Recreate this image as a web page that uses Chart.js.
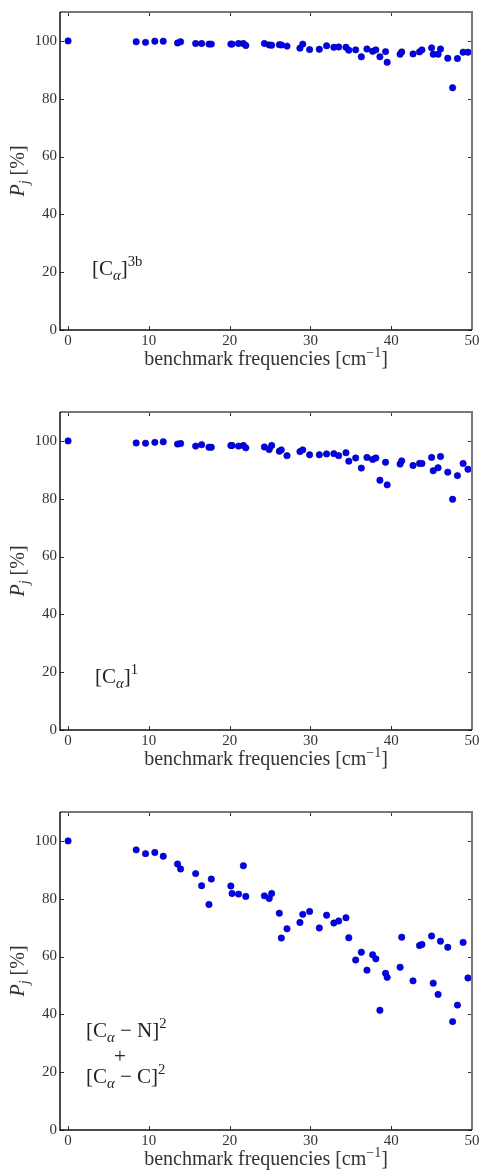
<!DOCTYPE html>
<html lang="en">
<head>
    <meta charset="UTF-8">
    <title>Benchmark frequencies</title>
    <script src="https://cdn.jsdelivr.net/npm/chart.js"></script>
    <style>
        body { margin: 0; background: #fff; }
        .panel { width: 480px; height: 400px; position: relative; }
        .panel.last { height: 371px; }
    </style>
</head>
<body>
    <div class="panel"><canvas id="chart0"></canvas></div>
    <div class="panel"><canvas id="chart1"></canvas></div>
    <div class="panel last"><canvas id="chart2"></canvas></div>
<script>
// benchmark frequencies [cm^-1], shared by all three panels
var freqs = [0, 8.43, 9.59, 10.74, 11.78, 13.55, 13.93, 15.79, 16.53, 17.44, 17.73, 20.15, 20.3, 21.1, 21.7, 22.0,
    24.3, 24.9, 25.2, 26.15, 26.4, 27.1, 28.7, 29.05, 29.9, 31.1, 32.0, 32.9, 33.5, 34.4, 34.75, 35.6, 36.3, 37.0,
    37.7, 38.1, 38.6, 39.3, 39.5, 41.1, 41.3, 42.7, 43.5, 43.8, 45.0, 45.2, 45.8, 46.1, 47.0, 47.6, 48.2, 48.9, 49.5];

// P_j [%] for [Ca]^3b
var pCa3b = [100, 99.7, 99.5, 99.9, 99.9, 99.3, 99.7, 99.1, 99.1, 98.9, 98.9, 98.9, 98.9, 99.1, 99.1, 98.4,
    99.1, 98.6, 98.5, 98.7, 98.6, 98.2, 97.5, 98.9, 97.0, 97.1, 98.3, 97.8, 97.9, 97.8, 96.8, 96.9, 94.5, 97.2,
    96.4, 96.9, 94.5, 96.3, 92.6, 95.4, 96.2, 95.5, 96.2, 96.9, 97.6, 95.4, 95.4, 97.2, 94.0, 83.8, 93.9, 96.1, 96.1];

// P_j [%] for [Ca]^1
var pCa1 = [100, 99.3, 99.2, 99.5, 99.7, 98.9, 99.1, 98.2, 98.7, 97.8, 97.8, 98.4, 98.4, 98.2, 98.4, 97.6,
    97.9, 97.0, 98.4, 96.4, 96.9, 94.9, 96.3, 96.9, 95.2, 95.2, 95.5, 95.6, 94.9, 95.9, 93.0, 94.1, 90.6, 94.3,
    93.6, 94.1, 86.4, 92.6, 84.8, 92.0, 93.1, 91.5, 92.2, 92.2, 94.3, 89.7, 90.7, 94.6, 89.2, 79.8, 88.0, 92.2, 90.2];

// P_j [%] for [Ca-N]^2 + [Ca-C]^2
var pCaNC = [100, 96.9, 95.6, 96.0, 94.7, 92.0, 90.3, 88.7, 84.5, 78.0, 86.8, 84.4, 81.8, 81.6, 91.4, 80.8,
    81.0, 80.1, 81.8, 75.0, 66.4, 69.6, 71.8, 74.6, 75.6, 69.9, 74.3, 71.6, 72.3, 73.4, 66.5, 58.8, 61.5, 55.3,
    60.6, 59.2, 41.4, 54.2, 52.8, 56.3, 66.7, 51.6, 63.8, 64.2, 67.1, 50.8, 46.9, 65.3, 63.2, 37.5, 43.2, 64.9, 52.6];

var xTicks = [0, 10, 20, 30, 40, 50];
var yTicks = [0, 20, 40, 60, 80, 100];

var SERIF = '"Liberation Serif", "DejaVu Serif", serif';

// draw a run of text pieces: [text, kind] where kind is n / i / subi / sup
function fontFor(kind, size) {
    var s = (kind === 'sup' || kind === 'subi') ? size * 0.7 : size;
    var it = (kind === 'i' || kind === 'subi') ? 'italic ' : '';
    return it + s + 'px ' + SERIF;
}
function richWidth(ctx, parts, size) {
    var w = 0;
    parts.forEach(function(p) {
        ctx.font = fontFor(p[1], size);
        w += ctx.measureText(p[0]).width;
    });
    return w;
}
function drawRich(ctx, parts, x, y, size) {
    ctx.textAlign = 'left';
    ctx.textBaseline = 'alphabetic';
    parts.forEach(function(p) {
        var dy = 0;
        if (p[1] === 'subi') dy = size * 0.25;
        if (p[1] === 'sup') dy = -size * 0.42;
        ctx.font = fontFor(p[1], size);
        ctx.fillText(p[0], x, y + dy);
        x += ctx.measureText(p[0]).width;
    });
}

var framePlugin = {
    id: 'frame',
    afterDraw: function(chart) {
        var ctx = chart.ctx;
        var a = chart.chartArea;
        var xs = chart.scales.x, ys = chart.scales.y;
        ctx.save();
        // inward ticks on all four sides
        ctx.strokeStyle = '#333';
        ctx.lineWidth = 1;
        ctx.beginPath();
        xTicks.forEach(function(v) {
            var px = Math.round(xs.getPixelForValue(v)) + 0.5;
            ctx.moveTo(px, a.bottom); ctx.lineTo(px, a.bottom - 4);
            ctx.moveTo(px, a.top); ctx.lineTo(px, a.top + 4);
        });
        yTicks.forEach(function(v) {
            var py = Math.round(ys.getPixelForValue(v)) + 0.5;
            ctx.moveTo(a.left, py); ctx.lineTo(a.left + 4, py);
            ctx.moveTo(a.right, py); ctx.lineTo(a.right - 4, py);
        });
        ctx.stroke();
        // spines
        ctx.strokeStyle = '#777';
        ctx.lineWidth = 2;
        ctx.beginPath();
        ctx.moveTo(a.left, a.top); ctx.lineTo(a.right, a.top); ctx.lineTo(a.right, a.bottom);
        ctx.stroke();
        ctx.strokeStyle = '#111';
        ctx.lineWidth = 1.5;
        ctx.beginPath();
        ctx.moveTo(a.left, a.top); ctx.lineTo(a.left, a.bottom); ctx.lineTo(a.right, a.bottom);
        ctx.stroke();

        ctx.fillStyle = '#333';
        // x title
        var xt = [['benchmark frequencies [cm', 'n'], ['\u22121', 'sup'], [']', 'n']];
        var w = richWidth(ctx, xt, 20);
        drawRich(ctx, xt, (a.left + a.right) / 2 - w / 2, a.bottom + 35, 20);
        // y title
        var yt = [['P', 'i'], ['j', 'subi'], [' [%]', 'n']];
        ctx.translate(24, (a.top + a.bottom) / 2);
        ctx.rotate(-Math.PI / 2);
        w = richWidth(ctx, yt, 20);
        drawRich(ctx, yt, -w / 2, 0, 20);
        ctx.setTransform(1, 0, 0, 1, 0, 0);
        // label inside the plot
        ctx.fillStyle = '#222';
        var lab = chart.options.plugins.frame.label;
        lab.forEach(function(line) {
            if (line.center) {
                ctx.font = '21px ' + SERIF;
                ctx.textAlign = 'center';
                ctx.textBaseline = 'middle';
                ctx.fillText(line.parts[0][0], line.x, line.y);
            } else {
                drawRich(ctx, line.parts, line.x, line.y, 21);
            }
        });
        ctx.restore();
    }
};

function createChart(id, values, label, xHeight) {
    var pts = freqs.map(function(f, i) { return { x: f, y: values[i] }; });
    return new Chart(document.getElementById(id), {
        type: 'scatter',
        data: {
            datasets: [{
                data: pts,
                backgroundColor: '#0000ff',
                borderColor: '#000070',
                borderWidth: 0.6,
                pointRadius: 3.2
            }]
        },
        options: {
            responsive: true,
            maintainAspectRatio: false,
            animation: false,
            layout: { padding: { top: 12, right: 8, left: 0, bottom: 0 } },
            plugins: {
                legend: { display: false },
                tooltip: { enabled: false },
                frame: { label: label }
            },
            scales: {
                x: {
                    type: 'linear',
                    min: -1, max: 50,
                    grid: { display: false, drawTicks: false },
                    border: { display: false },
                    afterBuildTicks: function(s) { s.ticks = xTicks.map(function(v) { return { value: v }; }); },
                    afterFit: function(s) { s.height = xHeight; s.paddingLeft = 0; s.paddingRight = 0; },
                    ticks: { padding: 2, color: '#333', font: { family: SERIF, size: 15 } }
                },
                y: {
                    min: 0, max: 110,
                    grid: { display: false, drawTicks: false },
                    border: { display: false },
                    afterBuildTicks: function(s) { s.ticks = yTicks.map(function(v) { return { value: v }; }); },
                    afterFit: function(s) { s.width = 60; s.paddingTop = 0; s.paddingBottom = 0; },
                    ticks: { padding: 3, color: '#333', font: { family: SERIF, size: 15 } }
                }
            }
        },
        plugins: [framePlugin]
    });
}

var chart0 = createChart('chart0', pCa3b, [
    { x: 92, y: 275, parts: [['[C', 'n'], ['\u03b1', 'subi'], [']', 'n'], ['3b', 'sup']] }
], 70);

var chart1 = createChart('chart1', pCa1, [
    { x: 95, y: 283, parts: [['[C', 'n'], ['\u03b1', 'subi'], [']', 'n'], ['1', 'sup']] }
], 70);

var chart2 = createChart('chart2', pCaNC, [
    { x: 86, y: 237, parts: [['[C', 'n'], ['\u03b1', 'subi'], [' \u2212 N]', 'n'], ['2', 'sup']] },
    { x: 120, y: 257, center: true, parts: [['+', 'n']] },
    { x: 86, y: 283, parts: [['[C', 'n'], ['\u03b1', 'subi'], [' \u2212 C]', 'n'], ['2', 'sup']] }
], 41);
</script>
</body>
</html>
